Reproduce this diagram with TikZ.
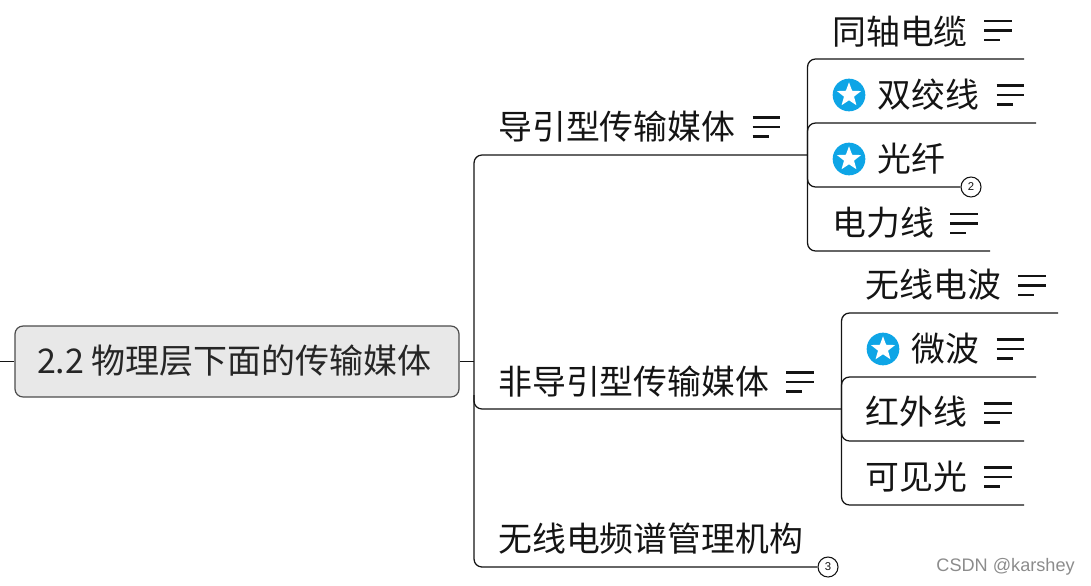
\documentclass[tikz,border=0pt]{standalone}
\usepackage{fontspec}
\setmainfont{Liberation Sans}
\newfontfamily\cjk{Noto Sans CJK SC}
\usetikzlibrary{shapes.geometric}
\definecolor{ink}{HTML}{141414}
\definecolor{starblue}{HTML}{0EA5E6}
\tikzset{
  x=0.75pt,y=-0.75pt,
  link/.style={draw=ink,line width=0.95pt,rounded corners=6pt},
  topic/.style={anchor=west,inner sep=0pt,text=ink,font=\cjk\fontsize{25.4}{26}\selectfont},
  roottext/.style={anchor=center,inner sep=0pt,text=black!85,font=\cjk\fontsize{25.5}{26}\selectfont},
  rootbox/.style={rectangle,draw=black!70,line width=0.9pt,fill=black!9,rounded corners=6pt,
    minimum width=333pt,minimum height=53.2pt,inner sep=0pt},
  badge/.style={circle,draw=ink,fill=white,line width=0.8pt,minimum size=15pt,inner sep=0pt,
    text=ink,font=\fontsize{8.5}{9}\selectfont},
  stardisc/.style={circle,fill=starblue,minimum size=24.5pt,inner sep=0pt},
  starshape/.style={star,star points=5,star point ratio=2.4,fill=white,minimum size=19pt,inner sep=0pt},
  notes/.pic={
    \draw[ink,line width=1.9pt] (0,-9.7) -- (27.5,-9.7);
    \draw[ink,line width=1.9pt] (0,0) -- (27.5,0);
    \draw[ink,line width=1.9pt] (0,9.3) -- (16,9.3);
  }
}
\begin{document}
\begin{tikzpicture}
\useasboundingbox (0,0) rectangle (1091,585);
% root
\node[rootbox] (root) at (237,361.5) {};
\node[roottext] (roottxt) at (234.5,361) {2.2 物理层下面的传输媒体};
\coordinate (stub) at (0,361.5);
\coordinate (t) at (474,361.5);
% level 1 ends
\coordinate (a1) at (807.5,155);
\coordinate (a2) at (841.5,409);
\coordinate (a3) at (818,567);
% level 2 ends
\coordinate (u1) at (1024,59);
\coordinate (u2) at (1036,123);
\coordinate (u4) at (990,251);
\coordinate (v1) at (1058,313);
\coordinate (v2) at (1036,377);
\coordinate (v3) at (1024,441);
\coordinate (v4) at (1024,505);
\coordinate (k) at (474,395);
% topics
\node[topic] (n1) at (498,127) {导引型传输媒体};
\node[topic] (n2) at (498,382) {非导引型传输媒体};
\node[topic] (n3) at (498,539) {无线电频谱管理机构};
\node[topic] (s1) at (832,32) {同轴电缆};
\node[topic] (s2) at (877.5,95) {双绞线};
\node[topic] (s3) at (877.5,159) {光纤};
\node[topic] (s4) at (832,223) {电力线};
\node[topic] (w1) at (865.5,285) {无线电波};
\node[topic] (w2) at (911.5,349) {微波};
\node[topic] (w3) at (865.5,412) {红外线};
\node[topic] (w4) at (865.5,477) {可见光};
% badges
\node[badge] (c2) at (971,187) {2};
\node[badge] (c3) at (828,567) {3};
% connectors
\draw[link] (stub) -- (root.west);
\draw[link] (root.east) -- (t);
\draw[link] (a1) -- (a1 -| t) -- (a3 -| t) -- (c3.west);
\draw[link] (k) -- (k |- a2) -- (a2);
\draw[link] (u1) -- (u1 -| a1) -- (u4 -| a1) -- (u4);
\draw[link] (u2) -- (u2 -| a1) -- (a1);
\draw[link] (c2.west) -- (c2.west -| a1) -- (a1);
\draw[link] (v1) -- (v1 -| a2) -- (v4 -| a2) -- (v4);
\draw[link] (v2) -- (v2 -| a2) -- (a2);
\draw[link] (v3) -- (v3 -| a2) -- (a2);
% star markers
\foreach \nm/\px/\py in {m1/849/95, m2/849/159, m3/883/349}{
  \node[stardisc] (\nm) at (\px,\py) {};
  \node[starshape] (\nm s) at (\px,\py) {};
}
% notes icons
\pic at (752.5,127) {notes};
\pic at (786,382) {notes};
\pic at (984,30.5) {notes};
\pic at (996.5,95) {notes};
\pic at (950,223.5) {notes};
\pic at (1018,285.5) {notes};
\pic at (996.5,349) {notes};
\pic at (984,413) {notes};
\pic at (984,477) {notes};
% watermark
\node[anchor=east,inner sep=0pt,text=black!45,font=\fontsize{13.6}{14}\selectfont] (wm) at (1075,566.5) {CSDN @karshey};
\end{tikzpicture}
\end{document}
